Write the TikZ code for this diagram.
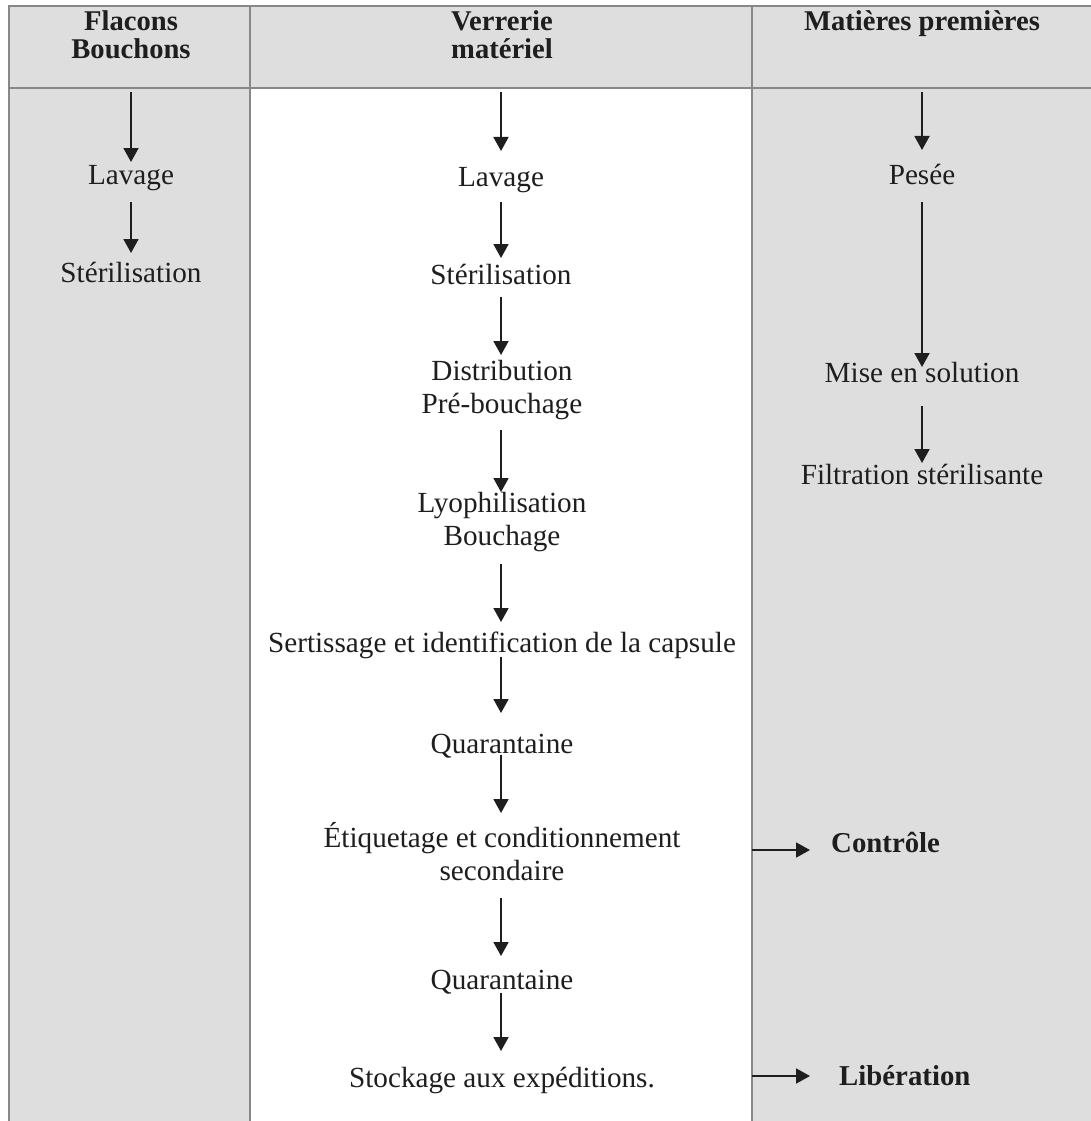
\documentclass[tikz,border=0pt]{standalone}
\usepackage{fontspec}
\setmainfont{Liberation Serif}
\usetikzlibrary{arrows.meta}
\definecolor{cellgray}{HTML}{DEDEDE}
\definecolor{rulegray}{HTML}{888888}
\definecolor{ink}{HTML}{1E1E1E}
% strut that keeps every line box the same size
\newcommand{\linestrut}{\rule[-9.9pt]{0pt}{39pt}}
\begin{document}
\begin{tikzpicture}[x=1pt,y=-1pt,
  stepnode/.style={inner sep=0pt, align=center, text=ink,
    font=\fontsize{29.2pt}{33pt}\selectfont,
    execute at begin node=\linestrut, execute at end node=\linestrut},
  headnode/.style={inner sep=0pt, align=center, text=ink, anchor=base,
    font=\fontsize{28.6pt}{28pt}\selectfont\bfseries},
  sidenode/.style={inner sep=0pt, anchor=west, text=ink,
    font=\fontsize{28.8pt}{33pt}\selectfont\bfseries},
  headcell/.style={inner sep=0pt, draw=none},
  flow/.style={ink, line width=1.8pt, -{Triangle[length=14pt,width=15pt]}},
  rule/.style={rulegray, line width=2.6pt}]
\useasboundingbox (0,0) rectangle (1091,1121);

% column backgrounds
\fill[cellgray] (9,6) rectangle (1091,1121);
\fill[white] (250,88) rectangle (752,1121);

% table rules
\draw[rule] (9,1121) -- (9,6) -- (1091,6);
\draw[rule] (9,88) -- (1091,88);
\draw[rule] (250,6) -- (250,1121);
\draw[rule] (752,6) -- (752,1121);

% header cells (base anchor = baseline of the last line)
\node[headcell, minimum width=241pt, minimum height=82pt] (hA) at (129.5,47) {};
\node[headcell, minimum width=502pt, minimum height=82pt] (hB) at (501,47) {};
\node[headcell, minimum width=339pt, minimum height=82pt] (hC) at (921.5,47) {};
\node[headnode] (tA) at (131,59) {Flacons\\Bouchons};
\node[headnode] (tB) at (502,59) {Verrerie\\matériel};
\node[headnode] (tC) at (922,31) {Matières premières};

% Flacons / Bouchons
\node[stepnode] (lavA) at (131,175) {Lavage};
\node[stepnode] (sterA) at (131,273) {Stérilisation};

% Verrerie / matériel
\node[stepnode] (lavB) at (501,177) {Lavage};
\node[stepnode] (sterB) at (501,275) {Stérilisation};
\node[stepnode] (distB) at (502,391.5) {Distribution\\Pré-bouchage};
\node[stepnode] (lyoB) at (502,523.5) {Lyophilisation\\Bouchage};
\node[stepnode] (sertB) at (502,643) {Sertissage et identification de la capsule};
\node[stepnode] (quarB) at (502,744) {Quarantaine};
\node[stepnode] (etiqB) at (502,856.5) {Étiquetage et conditionnement\\secondaire};
\node[stepnode] (quarC) at (502,980) {Quarantaine};
\node[stepnode] (stockB) at (502,1078) {Stockage aux expéditions.};

% Matières premières
\node[stepnode] (peseeC) at (922,175) {Pesée};
\node[stepnode] (miseC) at (922,373) {Mise en solution};
\node[stepnode] (filtC) at (922,475) {Filtration stérilisante};

% side outcomes
\node[sidenode] (ctrl) at (831,842) {Contrôle};
\node[sidenode] (lib) at (839,1076) {Libération};
\coordinate (ctrlFrom) at (752,850);
\coordinate (libFrom) at (752,1076);

% flow arrows, column 1
\draw[flow] ([yshift=-4pt]hA.south -| lavA) -- ([yshift=13pt]lavA.center);
\draw[flow] ([yshift=-27pt]lavA.center) -- ([yshift=20pt]sterA.center);

% flow arrows, column 2
\draw[flow] ([yshift=-4pt]hB.south -| lavB) -- ([yshift=26pt]lavB.center);
\draw[flow] ([yshift=-25pt]lavB.center) -- ([yshift=17pt]sterB.center);
\draw[flow] ([yshift=-22pt]sterB.center) -- ([yshift=36.5pt]distB.center -| sterB);
\draw[flow] ([yshift=-38.5pt]distB.center -| sterB) -- ([yshift=31.5pt]lyoB.center -| sterB);
\draw[flow] ([yshift=-40.5pt]lyoB.center -| sterB) -- ([yshift=21pt]sertB.center -| sterB);
\draw[flow] ([yshift=-14pt]sertB.center -| sterB) -- ([yshift=31pt]quarB.center -| sterB);
\draw[flow] ([yshift=-11pt]quarB.center -| sterB) -- ([yshift=43.5pt]etiqB.center -| sterB);
\draw[flow] ([yshift=-41.5pt]etiqB.center -| sterB) -- ([yshift=24pt]quarC.center -| sterB);
\draw[flow] ([yshift=-13pt]quarC.center -| sterB) -- ([yshift=27pt]stockB.center -| sterB);

% flow arrows, column 3
\draw[flow] ([yshift=-4pt]hC.south -| peseeC) -- ([yshift=25pt]peseeC.center);
\draw[flow] ([yshift=-27pt]peseeC.center) -- ([yshift=6pt]miseC.center);
\draw[flow] ([yshift=-33pt]miseC.center) -- ([yshift=12pt]filtC.center);

% outcome arrows
\draw[flow] (ctrlFrom) -- ([xshift=-21pt]ctrl.west |- ctrlFrom);
\draw[flow] (libFrom) -- ([xshift=-29pt]lib.west |- libFrom);
\end{tikzpicture}
\end{document}
